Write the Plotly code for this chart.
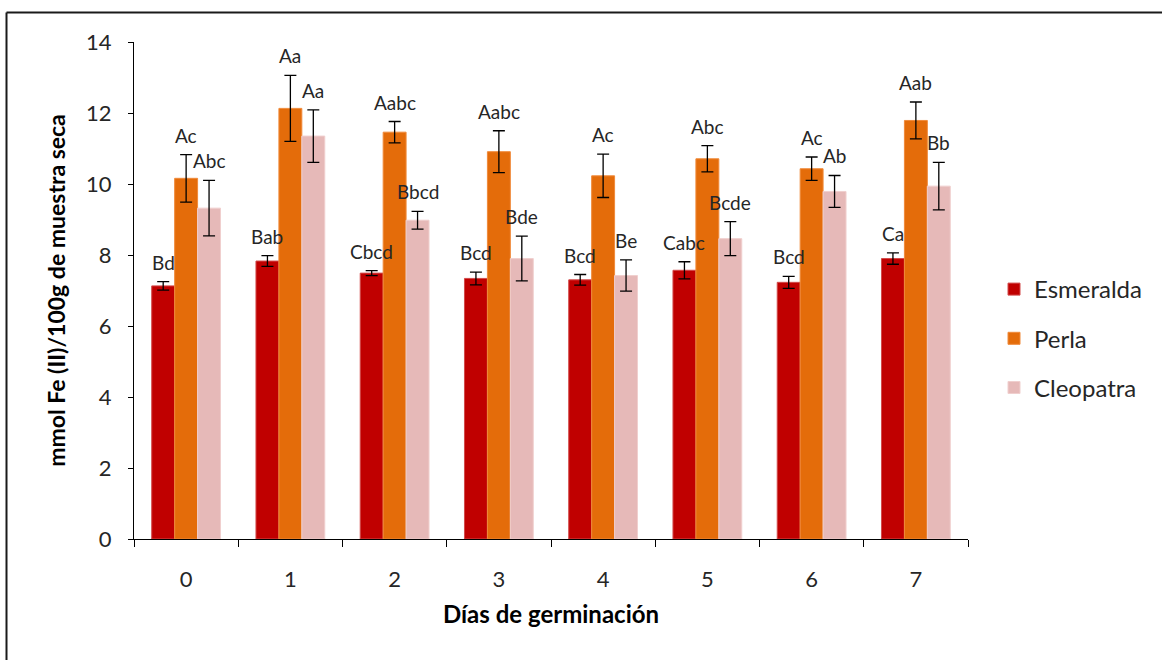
import plotly.graph_objects as go

# Germination days and the three varieties
days = [0, 1, 2, 3, 4, 5, 6, 7]
day_labels = ["0", "1", "2", "3", "4", "5", "6", "7"]

esmeralda = [7.13, 7.83, 7.49, 7.34, 7.30, 7.57, 7.23, 7.90]
esmeralda_err = [0.12, 0.15, 0.07, 0.18, 0.15, 0.24, 0.17, 0.16]
esmeralda_lbl = ["Bd", "Bab", "Cbcd", "Bcd", "Bcd", "Cabc", "Bcd", "Ca"]

perla = [10.16, 12.13, 11.46, 10.91, 10.23, 10.71, 10.43, 11.79]
perla_err = [0.67, 0.93, 0.30, 0.59, 0.61, 0.37, 0.33, 0.52]
perla_lbl = ["Ac", "Aa", "Aabc", "Aabc", "Ac", "Abc", "Ac", "Aab"]

cleopatra = [9.32, 11.35, 8.98, 7.90, 7.42, 8.46, 9.79, 9.94]
cleopatra_err = [0.78, 0.74, 0.25, 0.63, 0.44, 0.48, 0.45, 0.67]
cleopatra_lbl = ["Abc", "Aa", "Bbcd", "Bde", "Be", "Bcde", "Ab", "Bb"]

series = [
    ("Esmeralda", esmeralda, esmeralda_err, esmeralda_lbl, "#C00000", "#D24A4A"),
    ("Perla", perla, perla_err, perla_lbl, "#E46C0A", "#F08A3A"),
    ("Cleopatra", cleopatra, cleopatra_err, cleopatra_lbl, "#E6B9B8", "#F0CFCE"),
]

FONT = "Lato"
W, H = 1162, 660
M_L, M_R, M_T, M_B = 134, 194, 42, 121
BARGAP = 0.34
bar_w = (1 - BARGAP) / len(series)

fig = go.Figure()
annotations = []
for k, (name, vals, errs, lbls, color, edge) in enumerate(series):
    fig.add_trace(go.Bar(
        x=days, y=vals, name=name,
        marker=dict(color=color, line=dict(color=edge, width=1)),
        error_y=dict(type="data", array=errs, visible=True,
                     color="#000000", thickness=1.3, width=6),
        legendgroup=name,
    ))
    offset = (k - (len(series) - 1) / 2) * bar_w
    for d, v, e, t in zip(days, vals, errs, lbls):
        annotations.append(dict(
            x=d + offset, y=v + e, xref="x", yref="y", text=t,
            showarrow=False, yanchor="bottom", yshift=6,
            font=dict(family=FONT, size=19, color="#262626"),
        ))

# Frame lines along the top and left edges of the figure
pw = W - M_L - M_R
ph = H - M_T - M_B


def px_x(p):
    return (p - M_L) / pw


def px_y(p):
    return (H - M_B - p) / ph


shapes = [
    dict(type="line", xref="paper", yref="paper",
         x0=px_x(6.5), x1=px_x(W + 2), y0=px_y(12.5), y1=px_y(12.5),
         line=dict(color="#1a1a1a", width=2)),
    dict(type="line", xref="paper", yref="paper",
         x0=px_x(6.5), x1=px_x(6.5), y0=px_y(12.5), y1=px_y(H + 2),
         line=dict(color="#1a1a1a", width=2)),
]

fig.update_layout(
    width=W, height=H,
    margin=dict(l=M_L, r=M_R, t=M_T, b=M_B),
    paper_bgcolor="white", plot_bgcolor="white",
    barmode="group", bargap=BARGAP, bargroupgap=0,
    font=dict(family=FONT, color="#262626"),
    showlegend=True,
    legend=dict(
        x=px_x(994), y=px_y(267), xanchor="left", yanchor="top",
        font=dict(family=FONT, size=24, color="#262626"),
        traceorder="grouped", tracegroupgap=15,
        bgcolor="rgba(0,0,0,0)",
    ),
    annotations=annotations,
    shapes=shapes,
    xaxis=dict(
        range=[-0.5, 7.5], tickmode="array", tickvals=days, ticktext=day_labels,
        ticks="", showline=True, linecolor="#000000", linewidth=1,
        showgrid=False, zeroline=False,
        tickfont=dict(family=FONT, size=22, color="#262626"),
        ticklabelstandoff=21,
        minor=dict(tickmode="array", tickvals=[d - 0.5 for d in days] + [days[-1] + 0.5],
                   ticks="outside", ticklen=7, tickcolor="#000000", tickwidth=1,
                   showgrid=False),
        title=dict(text="<b>Días de germinación</b>", standoff=14,
                   font=dict(family=FONT, size=24, color="#000000")),
    ),
    yaxis=dict(
        range=[0, 14], dtick=2, tick0=0,
        ticks="outside", ticklen=5, tickcolor="#000000",
        showline=True, linecolor="#000000", linewidth=1,
        showgrid=False, zeroline=False,
        tickfont=dict(family=FONT, size=22, color="#262626"),
        ticklabelstandoff=12,
        title=dict(text="<b>mmol Fe (II)/100g de muestra seca</b>", standoff=14,
                   font=dict(family=FONT, size=23, color="#000000")),
    ),
)

fig.write_html("out.html")
